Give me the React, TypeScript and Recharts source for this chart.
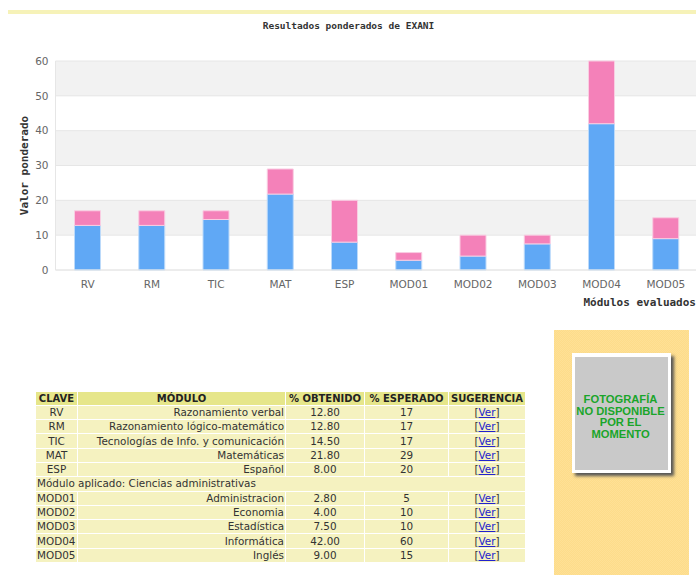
import React from 'react';
import { BarChart, Bar, XAxis, YAxis, CartesianGrid } from 'recharts';

const claves = ['RV', 'RM', 'TIC', 'MAT', 'ESP', 'MOD01', 'MOD02', 'MOD03', 'MOD04', 'MOD05'];
const obtenido = [12.8, 12.8, 14.5, 21.8, 8, 2.8, 4, 7.5, 42, 9];
const esperado = [17, 17, 17, 29, 20, 5, 10, 10, 60, 15];
const faltante = [4.2, 4.2, 2.5, 7.2, 12, 2.2, 6, 2.5, 18, 6];
const modulos = [
  'Razonamiento verbal',
  'Razonamiento lógico-matemático',
  'Tecnologías de Info. y comunicación',
  'Matemáticas',
  'Español',
  'Administracion',
  'Economia',
  'Estadística',
  'Informática',
  'Inglés',
];
const obtenidoTexto = ['12.80', '12.80', '14.50', '21.80', '8.00', '2.80', '4.00', '7.50', '42.00', '9.00'];
const yTicks = [0, 10, 20, 30, 40, 50, 60];
const columnas = ['CLAVE', 'MÓDULO', '% OBTENIDO', '% ESPERADO', 'SUGERENCIA'];
const anchos = [41, 207, 78, 83, 76];

const chartData = claves.map((clave, i) => ({ clave, obtenido: obtenido[i], faltante: faltante[i] }));

const FONT = '"DejaVu Sans", sans-serif';
const MONO = '"DejaVu Sans Mono", monospace';

const cellStyle: React.CSSProperties = {
  background: '#f5f2c0',
  padding: '0 1px',
  height: 13.3,
  lineHeight: '13px',
  whiteSpace: 'nowrap',
  overflow: 'hidden',
  fontSize: 10.4,
};

const Fila = ({ i }: { i: number }) => {
  const esModulo = claves[i].startsWith('MOD');
  return (
    <tr>
      <td style={{ ...cellStyle, textAlign: esModulo ? 'left' : 'center' }}>{claves[i]}</td>
      <td style={{ ...cellStyle, textAlign: 'right' }}>{modulos[i]}</td>
      <td style={{ ...cellStyle, textAlign: 'center' }}>{obtenidoTexto[i]}</td>
      <td style={{ ...cellStyle, textAlign: 'center' }}>{esperado[i]}</td>
      <td style={{ ...cellStyle, textAlign: 'center', color: '#333' }}>
        [<a href="#" style={{ color: '#2222cc' }}>Ver</a>]
      </td>
    </tr>
  );
};

export default function App() {
  return (
    <div style={{ position: 'fixed', left: 0, top: 0, width: 696, height: 575, overflow: 'hidden', background: '#fff' }}>
      <div style={{ position: 'absolute', left: 8, top: 10, width: 688, height: 4, background: '#f6f2b8' }} />
      <div
        style={{
          position: 'absolute',
          left: 0,
          top: 19,
          width: 697,
          textAlign: 'center',
          fontFamily: MONO,
          fontSize: 9.5,
          fontWeight: 700,
          lineHeight: '14px',
          color: '#333',
        }}
      >
        Resultados ponderados de EXANI
      </div>

      <div style={{ position: 'absolute', left: 0, top: 0 }}>
        <BarChart
          width={698}
          height={320}
          data={chartData}
          margin={{ top: 61, right: 0, bottom: 10, left: 0 }}
          barCategoryGap="29%"
        >
          <CartesianGrid
            vertical={false}
            stroke="#e6e6e6"
            horizontalFill={['#f2f2f2', '#ffffff']}
            fillOpacity={1}
          />
          <XAxis
            dataKey="clave"
            interval={0}
            height={40}
            axisLine={{ stroke: '#e6e6e6' }}
            tickLine={false}
            tick={{ fill: '#666', fontSize: 10.5, fontFamily: FONT }}
            tickMargin={5}
            label={{
              value: 'Módulos evaluados',
              position: 'insideBottomRight',
              offset: 0,
              dx: -2,
              dy: -4,
              style: { fontFamily: MONO, fontSize: 11, fontWeight: 700, fill: '#333' },
            }}
          />
          <YAxis
            width={55.5}
            domain={[0, 60]}
            ticks={yTicks}
            axisLine={{ stroke: '#e6e6e6' }}
            tickLine={false}
            tick={{ fill: '#666', fontSize: 10.5, fontFamily: FONT }}
            tickMargin={1}
            label={{
              value: 'Valor ponderado',
              angle: -90,
              position: 'insideLeft',
              offset: 24,
              style: { fontFamily: MONO, fontSize: 11, fontWeight: 700, fill: '#333', textAnchor: 'middle' },
            }}
          />
          <Bar dataKey="obtenido" stackId="a" barSize={26} fill="#60a8f5" stroke="#bcdafa" strokeWidth={1} isAnimationActive={false} />
          <Bar dataKey="faltante" stackId="a" barSize={26} fill="#f481b9" stroke="#f9cde2" strokeWidth={1} isAnimationActive={false} />
        </BarChart>
      </div>

      <table
        style={{
          position: 'absolute',
          left: 35,
          top: 390.5,
          width: 491,
          tableLayout: 'fixed',
          borderCollapse: 'separate',
          borderSpacing: 1,
          fontFamily: FONT,
          fontSize: 10.4,
          color: '#333',
        }}
      >
        <colgroup>
          {anchos.map((w, i) => (
            <col key={i} style={{ width: w }} />
          ))}
        </colgroup>
        <tbody>
          <tr>
            {columnas.map((c) => (
              <th key={c} style={{ ...cellStyle, fontSize: 10, background: '#e6e68a', fontWeight: 700, textAlign: 'center', color: '#222' }}>
                {c}
              </th>
            ))}
          </tr>
          {[0, 1, 2, 3, 4].map((i) => (
            <Fila key={i} i={i} />
          ))}
          <tr>
            <td colSpan={5} style={{ ...cellStyle, textAlign: 'left' }}>
              Módulo aplicado: Ciencias administrativas
            </td>
          </tr>
          {[5, 6, 7, 8, 9].map((i) => (
            <Fila key={i} i={i} />
          ))}
        </tbody>
      </table>

      <div
        style={{
          position: 'absolute',
          left: 554,
          top: 330,
          width: 135,
          height: 245,
          background: 'repeating-conic-gradient(#fddc8a 0 25%, #fee096 0 50%) 0 0 / 2px 2px',
        }}
      >
        <div
          style={{
            position: 'absolute',
            left: 18,
            top: 23,
            width: 93,
            height: 113,
            background: '#c9c9c9',
            border: '3px solid #fff',
            borderTopWidth: 4,
            boxShadow: '3px 3px 3px #555',
          }}
        >
          <div
            style={{
              position: 'absolute',
              left: -5,
              right: -3,
              top: 37,
              textAlign: 'center',
              whiteSpace: 'nowrap',
              fontFamily: '"Liberation Sans", sans-serif',
              fontSize: 11.2,
              fontWeight: 700,
              lineHeight: '11.5px',
              color: '#1aa52a',
            }}
          >
            FOTOGRAFÍA
            <br />
            NO DISPONIBLE
            <br />
            POR EL
            <br />
            MOMENTO
          </div>
        </div>
      </div>
    </div>
  );
}
